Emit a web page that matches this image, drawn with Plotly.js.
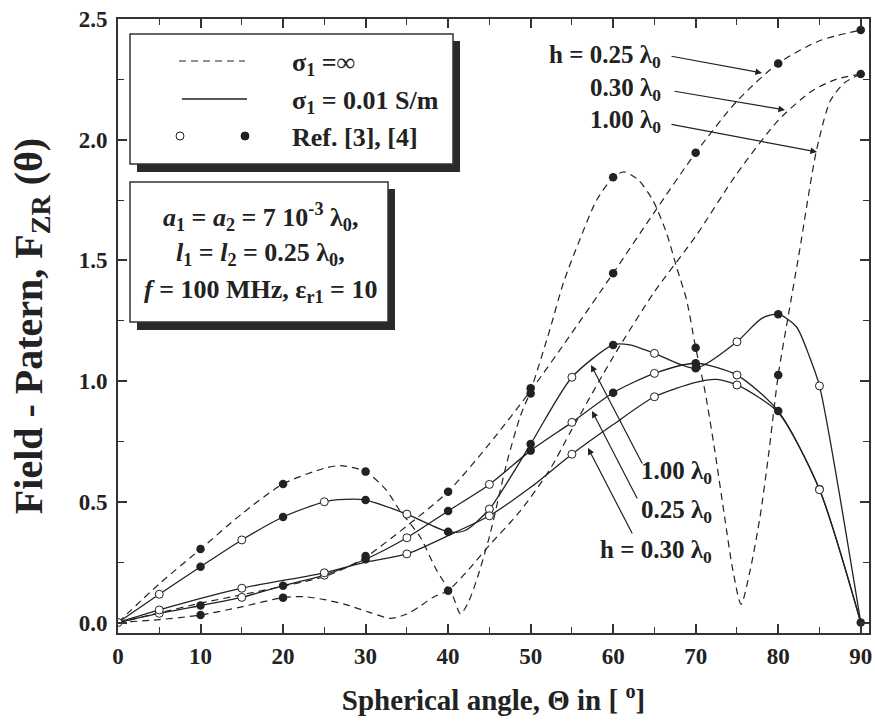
<!DOCTYPE html>
<html><head><meta charset="utf-8">
<script src="https://cdn.plot.ly/plotly-3.0.1.min.js"></script>
<style>html,body{margin:0;padding:0;background:#fff}#chart{width:875px;height:723px}</style>
</head><body><div id="chart"></div>
<script>
// ---- data ----
// sigma1 = infinity (dashed)
const thetaD25 = [0,5,10,15,20,25,27.5,30,35,40,45,50,55,60,65,70,75,80,85,90];
const fD25     = [0,0.04,0.08,0.115,0.15,0.19,0.225,0.27,0.40,0.542,0.74,0.96,1.2,1.447,1.7,1.946,2.16,2.316,2.41,2.454];
const thetaD30 = [0,5,10,15,20,22.5,25,27.5,30.5,33,35,36.5,38.2,40,42.5,45,48.7,52.3,55,60,65,70,75,80,84,87,90];
const fD30     = [0,0.012,0.031,0.065,0.103,0.107,0.095,0.075,0.042,0.017,0.035,0.065,0.105,0.132,0.22,0.32,0.46,0.632,0.80,1.10,1.37,1.60,1.86,2.08,2.2,2.25,2.272];
const thetaD100 = [0,5,10,15,20,25,27,30,32.5,34.1,36.6,38.6,40.6,41.5,42.4,43.4,45,47.1,48.7,50,52.3,54,56,58,60,61.3,63,64.8,66.5,67.7,68.9,70,71.1,72.3,73.5,74.5,75.5,76.6,77.8,78.8,80,81.2,82.6,84.6,86.3,88,90];
const fD100     = [0,0.16,0.304,0.45,0.574,0.639,0.65,0.625,0.549,0.466,0.355,0.217,0.107,0.035,0.08,0.17,0.355,0.66,0.85,0.96,1.21,1.41,1.59,1.75,1.844,1.867,1.835,1.75,1.61,1.47,1.336,1.138,0.963,0.715,0.438,0.217,0.075,0.217,0.438,0.687,1.025,1.267,1.543,1.95,2.16,2.235,2.272];
// sigma1 = 0.01 S/m (solid)
const thetaS25 = [0,5,10,15,20,25,30,35,40,45,50,55,60,65,70,75,80,85,90];
const fS25     = [0,0.038,0.07,0.104,0.152,0.196,0.262,0.351,0.462,0.572,0.712,0.829,0.952,1.032,1.074,1.025,0.876,0.552,0];
const thetaS30 = [0,5,15,25,30,35,40,45,50,55,60,65,70,72.5,75,80,85,90];
const fS30     = [0,0.052,0.142,0.206,0.25,0.284,0.36,0.442,0.56,0.697,0.82,0.935,0.995,1.007,0.984,0.87,0.55,0];
const thetaS100 = [0,5,10,15,20,25,27.5,30,35,40,42,45,50,55,60,62,65,70,75,78,80,82.2,83.8,85,90];
const fS100     = [0,0.117,0.231,0.342,0.437,0.50,0.51,0.507,0.449,0.376,0.38,0.47,0.739,1.016,1.15,1.15,1.115,1.053,1.163,1.26,1.277,1.225,1.1,0.98,0];
// Ref. [3] (open) and Ref. [4] (filled) points
const openTheta = [0,5,15,25,35,45,55,65,75,85, 5,15,25,35,45,55,65,75,85, 5,15,25,35,45,55,65,75,85];
const openF     = [0,0.117,0.342,0.50,0.449,0.47,1.016,1.115,1.163,0.98, 0.038,0.104,0.196,0.351,0.572,0.829,1.032,1.025,0.552, 0.052,0.142,0.206,0.284,0.442,0.697,0.935,0.984,0.55];
const fillTheta = [10,20,30, 10,20,40, 30,40,50,60,70,80,90, 50,60,70,80,90, 10,20,30,40,50,60,70,80,90, 10,20,30,40,50,60,70,80];
const fillF     = [0.304,0.574,0.625, 0.031,0.103,0.132, 0.275,0.542,0.97,1.447,1.946,2.316,2.454, 0.949,1.844,1.138,1.025,2.272, 0.231,0.437,0.507,0.376,0.739,1.15,1.053,1.277,0, 0.07,0.152,0.262,0.462,0.712,0.952,1.074,0.876];
// tick labels / texts
const xTitle = '<b>Spherical angle, \u0398 in [ <sup>o</sup>]</b>';
const yTitle = '<b>Field - Patern, F<sub>ZR</sub> (\u03b8)</b>';

// ---- layout helpers ----
const W=875, H=723, X0=118, X1=869, Y0=19, Y1=633;
const xr=[0,91], yr=[-0.0435,2.5];
const dX = p => xr[0] + (p-X0)/(X1-X0)*(xr[1]-xr[0]);
const dY = p => yr[1] - (p-Y0)/(Y1-Y0)*(yr[1]-yr[0]);
const pX = p => (p-X0)/(X1-X0);
const pY = p => (Y1-p)/(Y1-Y0);
const INK = '#222';
const FONT = 'Liberation Serif';

function lineTrace(x,y,dash){
  return {x:x,y:y,type:'scatter',mode:'lines',showlegend:false,
    line:{color:INK,width:dash?1.2:1.3,dash:dash?'7px,5px':'solid',shape:'spline',smoothing:0.7},hoverinfo:'skip'};
}
const traces = [
  lineTrace(thetaD25,fD25,true),
  lineTrace(thetaD30,fD30,true),
  lineTrace(thetaD100,fD100,true),
  lineTrace(thetaS25,fS25,false),
  lineTrace(thetaS30,fS30,false),
  lineTrace(thetaS100,fS100,false),
  {x:openTheta,y:openF,type:'scatter',mode:'markers',showlegend:false,hoverinfo:'skip',
   marker:{size:8,color:'#fff',line:{color:INK,width:1}}},
  {x:fillTheta,y:fillF,type:'scatter',mode:'markers',showlegend:false,hoverinfo:'skip',
   marker:{size:8.5,color:INK,line:{color:INK,width:0}}}
];

const shapes = [];
function box(l,t,r,b){
  shapes.push({type:'rect',xref:'paper',yref:'paper',x0:pX(l+7),x1:pX(r+7),y0:pY(b+8),y1:pY(t+7),fillcolor:'#2a2a2a',line:{width:0},layer:'above'});
  shapes.push({type:'rect',xref:'paper',yref:'paper',x0:pX(l),x1:pX(r),y0:pY(b),y1:pY(t),fillcolor:'#fff',line:{color:'#333',width:1.5},layer:'above'});
}
box(130,34,453,164);
box(130,182,388,322);
shapes.push({type:'line',xref:'paper',yref:'paper',x0:pX(179),x1:pX(245),y0:pY(61),y1:pY(61),line:{color:INK,width:1.2,dash:'7px,5px'},layer:'above'});
shapes.push({type:'line',xref:'paper',yref:'paper',x0:pX(182),x1:pX(247),y0:pY(99),y1:pY(99),line:{color:INK,width:1.3},layer:'above'});
shapes.push({type:'circle',xref:'paper',yref:'paper',x0:pX(176),x1:pX(184),y0:pY(140),y1:pY(132),fillcolor:'#fff',line:{color:INK,width:1},layer:'above'});
shapes.push({type:'circle',xref:'paper',yref:'paper',x0:pX(241),x1:pX(249),y0:pY(140),y1:pY(132),fillcolor:INK,line:{color:INK,width:1},layer:'above'});

const ann = [];
function txt(text,x,y,anchor,size){
  ann.push({text:'<b>'+text+'</b>',xref:'paper',yref:'paper',x:pX(x),y:pY(y),xanchor:anchor,yanchor:'middle',
    showarrow:false,font:{family:FONT,size:size||26,color:INK}});
}
txt('\u03c3<sub>1</sub> =\u221e',290,64,'left');
txt('\u03c3<sub>1</sub> = 0.01 S/m',290,102,'left');
txt('Ref. [3], [4]',290,137,'left');
txt('<i>a</i><sub>1</sub> = <i>a</i><sub>2</sub> = 7 10<sup>-3</sup> \u03bb<sub>0</sub>,',260,217,'center');
txt('<i>l</i><sub>1</sub> = <i>l</i><sub>2</sub> = 0.25 \u03bb<sub>0</sub>,',260,254,'center');
txt('<i>f</i> = 100 MHz, \u03b5<sub>r1</sub> = 10',260,291,'center');
txt('h = 0.25 \u03bb<sub>0</sub>',663,56,'right',25);
txt('0.30 \u03bb<sub>0</sub>',663,89,'right',25);
txt('1.00 \u03bb<sub>0</sub>',663,122,'right',25);
txt('1.00 \u03bb<sub>0</sub>',714,472,'right',25);
txt('0.25 \u03bb<sub>0</sub>',714,511,'right',25);
txt('h = 0.30 \u03bb<sub>0</sub>',714,551,'right',25);
function arrow(tx,ty,hx,hy){
  ann.push({text:'',x:dX(hx),y:dY(hy),xref:'x',yref:'y',ax:dX(tx),ay:dY(ty),axref:'x',ayref:'y',
    showarrow:true,arrowhead:2,arrowsize:1.1,arrowwidth:1.2,arrowcolor:INK,standoff:0,startstandoff:0});
}
arrow(670,56,762,73);
arrow(673,91,785,110);
arrow(670,124,817,152);
arrow(643,465,591,365);
arrow(638,500,592,411);
arrow(633,535,588,448);

const axisCommon = {showline:true,linewidth:2,linecolor:'#333',mirror:'ticks',ticks:'inside',tickcolor:'#333',
  tickwidth:1.5,ticklen:9,showgrid:false,zeroline:false,
  tickfont:{family:FONT,size:23,color:INK,weight:'bold'}};
const layout = {
  width:W,height:H,margin:{l:X0,r:W-X1,t:Y0,b:H-Y1},paper_bgcolor:'#fff',plot_bgcolor:'#fff',
  showlegend:false,hovermode:false,
  xaxis:Object.assign({},axisCommon,{range:xr,dtick:10,tick0:0,ticklabelstandoff:1,
    minor:{dtick:5,ticks:'inside',ticklen:6,tickcolor:'#333',tickwidth:1.2},
    title:{text:xTitle,font:{family:FONT,size:29,color:INK},standoff:22}}),
  yaxis:Object.assign({},axisCommon,{range:yr,dtick:0.5,tick0:0,tickformat:'.1f',ticklabelstandoff:4,
    minor:{dtick:0.25,ticks:'inside',ticklen:6,tickcolor:'#333',tickwidth:1.2},
    title:{text:yTitle,font:{family:FONT,size:40,color:INK},standoff:24}}),
  shapes:shapes,annotations:ann
};
Plotly.newPlot('chart',traces,layout,{displayModeBar:false,responsive:false}).then(function(gd){
  // expose each text's computed size as an attribute as well
  gd.querySelectorAll('svg text').forEach(function(t){
    var fs = window.getComputedStyle(t).fontSize;
    if(fs) t.setAttribute('font-size', fs);
  });
});
</script></body></html>
